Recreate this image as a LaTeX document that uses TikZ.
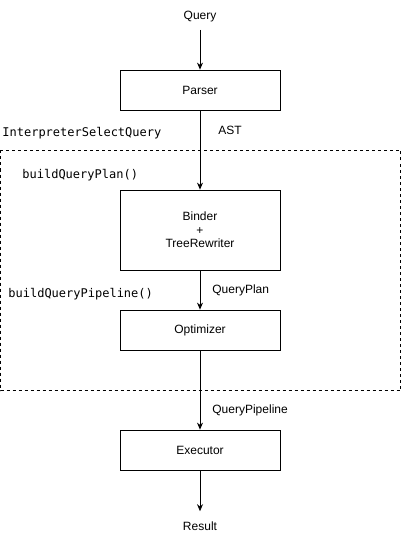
\documentclass[tikz,border=0pt]{standalone}
\usepackage{fontspec}
\setmainfont{Liberation Sans}
\setmonofont{DejaVu Sans Mono}
\usetikzlibrary{arrows.meta}

\begin{document}
\begin{tikzpicture}[>={Stealth[length=7pt,width=6pt]}, x=1pt, y=1pt, line width=0.8pt]
 \tikzstyle{block}=     [draw, minimum width=160pt, inner sep=0pt, font=\fontsize{12}{14}\selectfont]
 \tikzstyle{term}=      [inner sep=0pt, font=\fontsize{12}{14}\selectfont]
 \tikzstyle{edgelabel}= [anchor=west, inner sep=0pt, font=\fontsize{12}{14}\selectfont]
 \tikzstyle{codelabel}= [anchor=west, inner sep=0pt, font=\ttfamily\fontsize{12}{14}\selectfont]
 \useasboundingbox (0,0) rectangle (401,-540);

 \node (query) at (200,-17) [term] {Query};
 \node (parser) at (200,-90) [block, minimum height=40pt] {Parser};
 \node (binder) at (200,-230) [block, minimum height=80pt, align=center] {Binder\\[-0.5pt]+\\[-0.5pt]TreeRewriter};
 \node (optimizer) at (200,-330) [block, minimum height=40pt] {Optimizer};
 \node (executor) at (200,-450) [block, minimum height=40pt] {Executor};
 \node (result) at (200,-526) [term] {Result};

 % interpreter frame
 \draw [dashed, line width=0.6pt] (0.5,-150.5) rectangle (400.5,-390.5);
 \node (interpname) at (2,-133) [codelabel] {InterpreterSelectQuery};
 \node (planname) at (22,-175) [codelabel] {buildQueryPlan()};
 \node (pipename) at (8,-294) [codelabel] {buildQueryPipeline()};

 \node (ast) at (218,-130) [edgelabel] {AST};
 \node (plan) at (212,-290) [edgelabel] {QueryPlan};
 \node (pipeline) at (212,-410) [edgelabel] {QueryPipeline};

 \draw [->, shorten <=7pt] (query) -- (parser);
 \draw [->] (parser) -- (binder);
 \draw [->] (binder) -- (optimizer);
 \draw [->] (optimizer) -- (executor);
 \draw [->, shorten >=10pt] (executor) -- (result);

\end{tikzpicture}
\end{document}
